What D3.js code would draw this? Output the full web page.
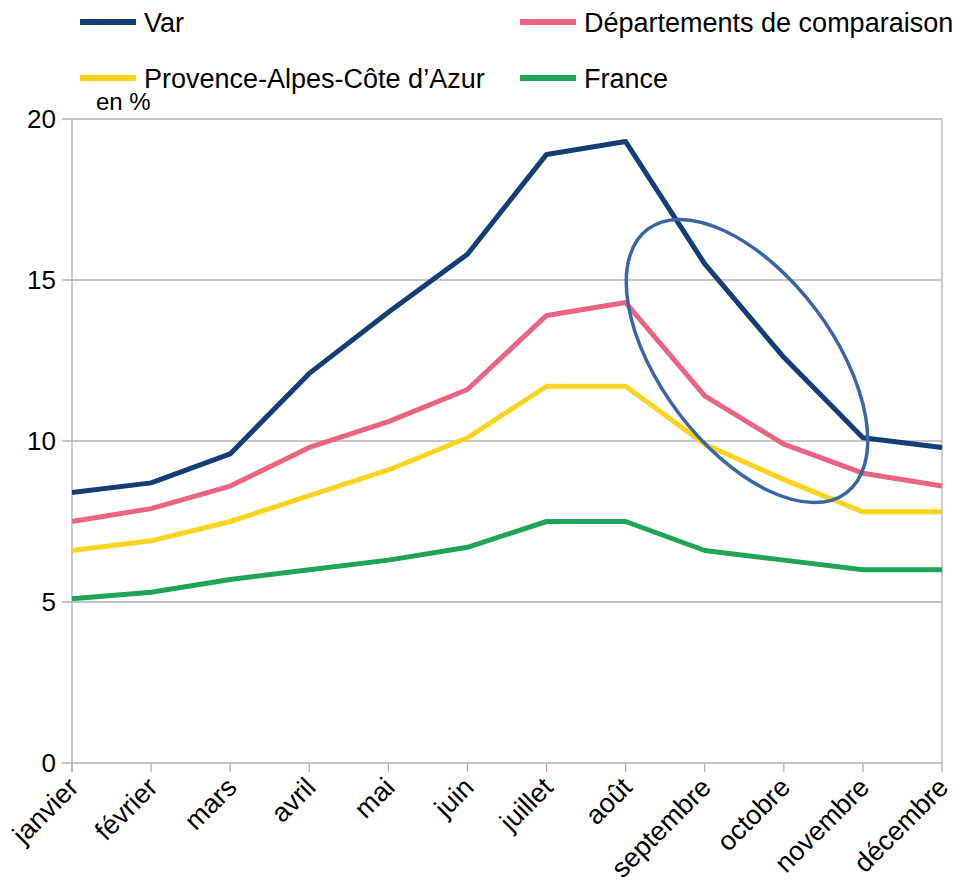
<!DOCTYPE html>
<html lang="fr">
<head>
<meta charset="utf-8">
<title>Var</title>
<style>
  body { margin: 0; background: #fff; }
  text { font-family: 'Liberation Sans', Arial, sans-serif; fill: #000; }
</style>
<script src="https://d3js.org/d3.v7.min.js"></script>
</head>
<body>
<svg id="chart" width="971" height="885"></svg>
<script>
var months = ["janvier", "février", "mars", "avril", "mai", "juin", "juillet", "août", "septembre", "octobre", "novembre", "décembre"];
var yTicks = [0, 5, 10, 15, 20];

var varVals = [8.4, 8.7, 9.6, 12.1, 14.0, 15.8, 18.9, 19.3, 15.5, 12.6, 10.1, 9.8];
var compVals = [7.5, 7.9, 8.6, 9.8, 10.6, 11.6, 13.9, 14.3, 11.4, 9.9, 9.0, 8.6];
var pacaVals = [6.6, 6.9, 7.5, 8.3, 9.1, 10.1, 11.7, 11.7, 9.9, 8.8, 7.8, 7.8];
var franceVals = [5.1, 5.3, 5.7, 6.0, 6.3, 6.7, 7.5, 7.5, 6.6, 6.3, 6.0, 6.0];

var series = [
  { name: "Var", values: varVals, color: "#133f76" },
  { name: "Départements de comparaison", values: compVals, color: "#ec6482" },
  { name: "Provence-Alpes-Côte d’Azur", values: pacaVals, color: "#fcd31e" },
  { name: "France", values: franceVals, color: "#1fa555" }
];

var svg = d3.select("#chart");
var pLeft = 72, pRight = 942, pTop = 119, pBottom = 763;

var x = d3.scalePoint().domain(months).range([pLeft, pRight]);
var y = d3.scaleLinear().domain([0, 20]).range([pBottom, pTop]);

// grille
svg.append("g").selectAll("line").data(yTicks).join("line")
  .attr("x1", pLeft - 10).attr("x2", pRight)
  .attr("y1", d => y(d)).attr("y2", d => y(d))
  .attr("stroke", "#b3b3b3").attr("stroke-width", 1.3);

svg.append("line").attr("x1", pRight).attr("x2", pRight).attr("y1", pTop).attr("y2", pBottom)
  .attr("stroke", "#b3b3b3").attr("stroke-width", 1.3);
svg.append("line").attr("x1", pLeft).attr("x2", pLeft).attr("y1", pTop).attr("y2", pBottom + 9)
  .attr("stroke", "#b3b3b3").attr("stroke-width", 1.3);

svg.append("g").selectAll("line").data(months).join("line")
  .attr("x1", d => x(d)).attr("x2", d => x(d))
  .attr("y1", pBottom).attr("y2", pBottom + 9)
  .attr("stroke", "#b3b3b3").attr("stroke-width", 1.3);

// axe y
svg.append("g").selectAll("text").data(yTicks).join("text")
  .attr("x", 56).attr("y", d => y(d) + 9)
  .attr("text-anchor", "end").attr("font-size", 26)
  .text(d => d);

svg.append("text").attr("x", 96).attr("y", 110).attr("font-size", 24).text("en %");

// axe x
svg.append("g").selectAll("text").data(months).join("text")
  .attr("transform", d => "translate(" + (x(d) + 8) + "," + 789 + ") rotate(-45)")
  .attr("text-anchor", "end").attr("font-size", 27)
  .text(d => d);

// courbes
var line = d3.line().x((d, i) => x(months[i])).y(d => y(d));
svg.append("g").selectAll("path").data(series.slice().reverse()).join("path")
  .attr("d", d => line(d.values))
  .attr("fill", "none")
  .attr("stroke", d => d.color)
  .attr("stroke-width", 5)
  .attr("stroke-linejoin", "round");

// ellipse annotation
svg.append("ellipse")
  .attr("cx", 747).attr("cy", 361).attr("rx", 165).attr("ry", 86)
  .attr("transform", "rotate(53,747,361)")
  .attr("fill", "none").attr("stroke", "#3a66a6").attr("stroke-width", 3.5);

// légende
var legendPos = [[80, 22], [520, 22], [80, 78], [520, 78]];
var lg = svg.append("g").selectAll("g").data(series).join("g")
  .attr("transform", (d, i) => "translate(" + legendPos[i][0] + "," + legendPos[i][1] + ")");
lg.append("line").attr("x1", 0).attr("x2", 56).attr("y1", 0).attr("y2", 0)
  .attr("stroke", d => d.color).attr("stroke-width", 6);
lg.append("text").attr("x", 64).attr("y", 10).attr("font-size", 27).text(d => d.name);
</script>
</body>
</html>
